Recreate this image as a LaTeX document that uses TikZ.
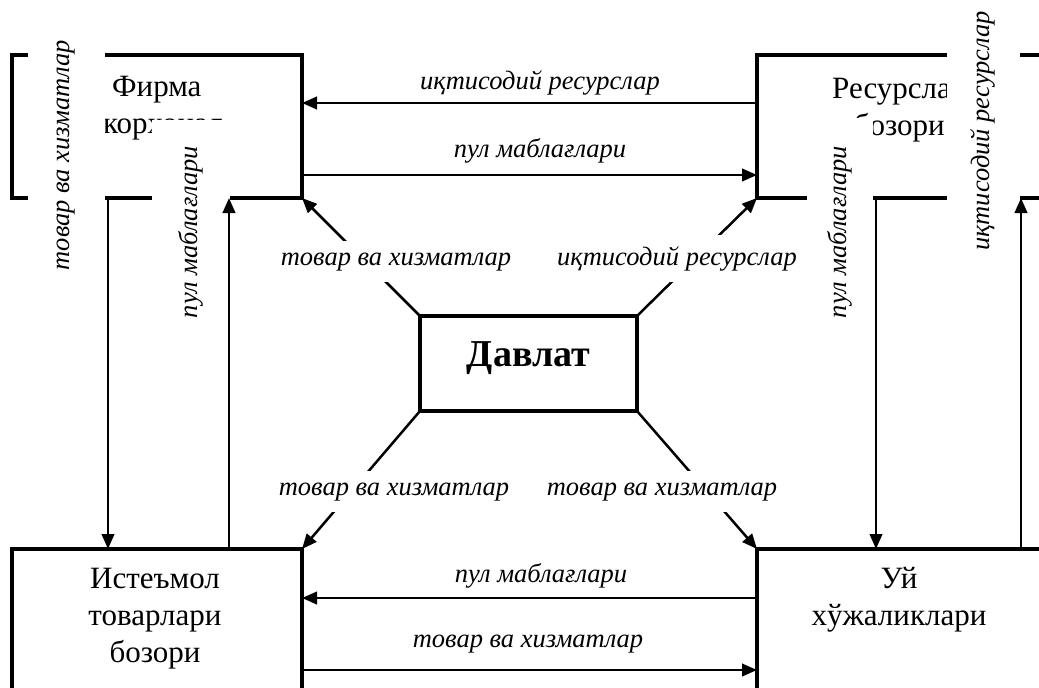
\documentclass[tikz,border=0pt]{standalone}
\usepackage{fontspec}
\setmainfont{Liberation Serif}
\usetikzlibrary{arrows.meta,calc}

\tikzset{
  box/.style={draw, line width=4.5pt, inner sep=0pt, outer sep=0pt, anchor=north west},
  boxtext/.style={font=\fontsize{31}{37}\selectfont, align=center, inner sep=0pt},
  flowlabel/.style={font=\fontsize{26.5}{30}\selectfont\itshape, inner sep=0pt, anchor=base},
  sidelabel/.style={flowlabel, anchor=center, rotate=90, fill=white},
  crosslabel/.style={flowlabel, fill=white, inner xsep=4pt, inner ysep=11pt},
  flow/.style={-{Triangle[length=15pt,width=12.5pt]}, line width=2.5pt}
}

\begin{document}
\begin{tikzpicture}[x=1pt, y=-1pt]
  \useasboundingbox (0,0) rectangle (1039,688);
  \clip (0,0) rectangle (1039,688);

  % boxes
  \node[box, minimum width=290pt, minimum height=143pt] (firm) at (12,55) {};
  \node[box, minimum width=360pt, minimum height=143pt] (resmkt) at (757,55) {};
  \node[box, minimum width=290pt, minimum height=200pt] (goodsmkt) at (12,549) {};
  \node[box, minimum width=360pt, minimum height=200pt] (house) at (757,549) {};
  \node[box, anchor=center, minimum width=217pt, minimum height=95pt,
    font=\fontsize{38}{44}\selectfont\bfseries, text height=26pt, text depth=21pt]
    (govt) at (528.5,363.5) {Давлат};

  \begin{scope}
    \clip (100,60) rectangle (221,196);
    \node[boxtext, align=left, anchor=base west] (firmtext) at (103,133)
      {\hspace*{9pt}Фирма\\корхоналари};
  \end{scope}
  \node[boxtext, anchor=base west] (restext) at (832,135) {Ресурслар\\бозори};
  \node[boxtext, anchor=base] (goodstext) at (155,662) {Истеъмол\\товарлари\\бозори};
  \node[boxtext, anchor=base] (housetext) at (899,625) {Уй\\хўжаликлари};

  % side labels
  \node[sidelabel, minimum height=77pt, minimum width=240pt] (firmgoods) at (66,155)
    {товар ва хизматлар};
  \node[sidelabel, minimum height=78pt, minimum width=224pt] (firmmoney) at (191,232)
    {пул маблағлари};
  \node[sidelabel, minimum height=66pt, minimum width=228pt] (housemoney) at (840,232)
    {пул маблағлари};
  \node[sidelabel, minimum height=73pt, minimum width=263pt] (houseres) at (983,131)
    {иқтисодий ресурслар};

  % flows
  \draw[flow] ([yshift=-48pt]resmkt.north west) -- ([yshift=-48pt]firm.north east);
  \draw[flow] ([yshift=-120pt]firm.north east) -- ([yshift=-120pt]resmkt.north west);
  \draw[flow] ([yshift=-49pt]house.north west) -- ([yshift=-49pt]goodsmkt.north east);
  \draw[flow] ([yshift=-121pt]goodsmkt.north east) -- ([yshift=-121pt]house.north west);
  \draw[flow] ([xshift=96pt]firm.south west) -- ([xshift=96pt]goodsmkt.north west);
  \draw[flow] ([xshift=217pt]goodsmkt.north west) -- ([xshift=217pt]firm.south west);
  \draw[flow] ([xshift=119pt]resmkt.south west) -- ([xshift=119pt]house.north west);
  \draw[flow] ([xshift=264pt]house.north west) -- ([xshift=264pt]resmkt.south west);
  \draw[flow] (govt.north west) -- (firm.south east);
  \draw[flow] (govt.north east) -- (resmkt.south west);
  \draw[flow] (govt.south west) -- (goodsmkt.north east);
  \draw[flow] (govt.south east) -- (house.north west);

  % labels
  \node[flowlabel] (topres) at (540,89) {иқтисодий ресурслар};
  \node[flowlabel] (topmoney) at (540,157) {пул маблағлари};
  \node[flowlabel] (botmoney) at (541,582) {пул маблағлари};
  \node[flowlabel] (botgoods) at (528,647) {товар ва хизматлар};
  \node[crosslabel] (nwgoods) at (396,265) {товар ва хизматлар};
  \node[crosslabel] (neres) at (677,265) {иқтисодий ресурслар};
  \node[crosslabel] (swgoods) at (394,495) {товар ва хизматлар};
  \node[crosslabel] (segoods) at (662,495) {товар ва хизматлар};
\end{tikzpicture}
\end{document}
